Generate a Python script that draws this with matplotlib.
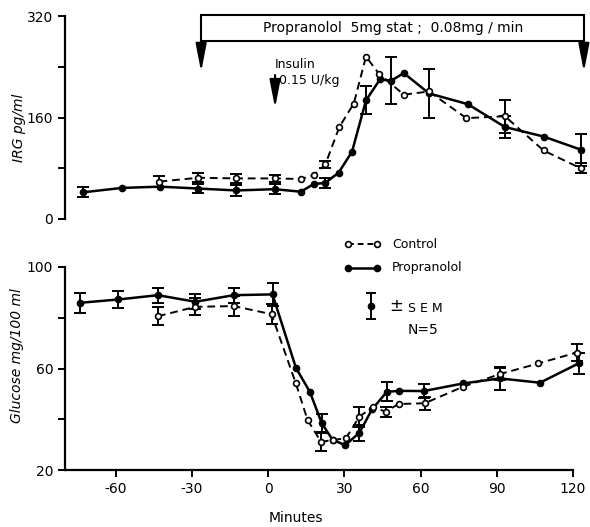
import numpy as np
import matplotlib
matplotlib.use('Agg')
import matplotlib.pyplot as plt
from matplotlib.patches import Rectangle
from matplotlib.lines import Line2D

# IRG (pg/ml), upper panel
irg_prop_t = [-73, -57.6, -42.5, -27.6, -12.5, 2.6, 12.8, 17.9, 22.5, 27.7, 33, 38.5,
              44, 48.4, 53.4, 63.3, 78.6, 93.2, 108.4, 123.3]
irg_prop = [42, 49, 51, 48, 45, 47, 43, 55, 57, 73, 106, 187, 220, 218, 230, 198, 181,
            145, 130, 109]
irg_prop_sem = [8, 0, 0, 7, 8, 8, 0, 0, 8, 0, 0, 22, 0, 37, 0, 39, 0, 18, 0, 25]

irg_ctrl_t = [-42.8, -27.6, -12.5, 2.6, 12.8, 17.9, 22.5, 28, 33.7, 38.5, 43.6, 53.4,
              63.3, 78, 93.2, 108.4, 123]
irg_ctrl = [59, 65, 64, 64, 63, 69, 86, 145, 182, 256, 229, 196, 201, 159, 162, 108, 80]
irg_ctrl_sem = [8, 7, 7, 6, 0, 0, 6, 0, 0, 0, 0, 0, 0, 0, 26, 0, 8]

# Glucose (mg/100 ml), lower panel
glu_prop_t = [-74, -59, -43.4, -28.7, -13.5, 1.7, 10.9, 16.4, 21.1, 25.4, 30.4, 35.9,
              40.9, 46.7, 51.5, 61.2, 76.7, 91.2, 107, 122.2]
glu_prop = [85.9, 87.2, 88.9, 86.3, 88.9, 89.2, 60.3, 50.8, 38.4, 31.8, 29.8, 34.7,
            43.9, 50.8, 51.2, 51.1, 54.1, 56.1, 54.4, 62]
glu_prop_sem = [4, 3.5, 3, 3, 3, 4.5, 0, 0, 3.5, 0, 0, 3.2, 0, 3.7, 0, 2.6, 0, 4.5, 0, 4.2]

glu_ctrl_t = [-43.4, -28.7, -13.5, 1.3, 10.9, 15.5, 20.8, 25.4, 30.6, 35.9, 41.2, 46.2,
              51.3, 61.6, 76.7, 91.2, 106.4, 121.5]
glu_ctrl = [80.6, 84.3, 84.6, 81.4, 54.1, 39.7, 31.1, 31.8, 32.5, 41, 44.9, 43, 46,
            46.3, 52.8, 57.8, 62, 66.3]
glu_ctrl_sem = [3.5, 3.3, 4, 4, 0, 0, 3.5, 0, 0, 4, 0, 2, 0, 2.5, 0, 2.5, 0, 3.5]

x_ticks = [-60, -30, 0, 30, 60, 90, 120]

W, H = 590, 527


def fx(x):
    return x / W


def fy(y):
    return 1 - y / H


def draw_series(ax, t, v, sem, filled):
    t = np.array(t)
    v = np.array(v)
    sem = np.array(sem)
    m = sem > 0
    eb = ax.errorbar(t[m], v[m], yerr=sem[m], fmt='none', ecolor='black', elinewidth=1.4,
                     capsize=4, capthick=1.4, zorder=2)
    for a in eb.get_children():
        a.set_clip_on(False)
    if filled:
        ax.plot(t, v, '-', color='black', lw=1.8, marker='o', ms=4.5,
                mfc='black', mec='black', zorder=3, clip_on=False)
    else:
        ax.plot(t, v, '--', color='black', lw=1.4, dashes=(4, 2.5), marker='o', ms=4.2,
                mfc='white', mec='black', mew=1.2, zorder=4, clip_on=False)


fig = plt.figure(figsize=(W / 100, H / 100), dpi=100)
plt.rcParams['font.family'] = 'DejaVu Sans'

ax1 = fig.add_axes([fx(65), fy(219), fx(573) - fx(65), fy(16) - fy(219)])
ax2 = fig.add_axes([fx(65), fy(470), fx(573) - fx(65), fy(267) - fy(470)])

for ax in (ax1, ax2):
    ax.set_xlim(-80, 120)
    for s in ('top', 'right'):
        ax.spines[s].set_visible(False)
    ax.spines['left'].set_linewidth(1.6)
    ax.spines['bottom'].set_linewidth(1.6)
    ax.tick_params(width=1.4, length=5, labelsize=10)

# upper panel
draw_series(ax1, irg_prop_t, irg_prop, irg_prop_sem, True)
draw_series(ax1, irg_ctrl_t, irg_ctrl, irg_ctrl_sem, False)
ax1.set_ylim(0, 320)
ax1.set_yticks([0, 80, 160, 240, 320])
ax1.set_yticklabels(['0', '', '160', '', '320'])
ax1.spines['bottom'].set_visible(False)
ax1.set_xticks([])

# lower panel
draw_series(ax2, glu_prop_t, glu_prop, glu_prop_sem, True)
draw_series(ax2, glu_ctrl_t, glu_ctrl, glu_ctrl_sem, False)
ax2.set_ylim(20, 100)
ax2.set_yticks([20, 40, 60, 80, 100])
ax2.set_yticklabels(['20', '', '60', '', '100'])
ax2.set_xticks(x_ticks)
ax2.set_xticklabels([str(v) for v in x_ticks])

fig.text(fx(19), fy(128), 'IRG pg/ml', rotation=90, style='italic', fontsize=10,
         ha='center', va='center')
fig.text(fx(17), fy(356), 'Glucose mg/100 ml', rotation=90, style='italic', fontsize=10,
         ha='center', va='center')
fig.text(fx(296), fy(518), 'Minutes', fontsize=10, ha='center', va='center')

# propranolol infusion box and arrows
box = Rectangle((-26.4, 281), 150.7, 41, fill=False, lw=1.5, ec='black', clip_on=False)
ax1.add_patch(box)
ax1.text(49, 301, 'Propranolol  5mg stat ;  0.08mg / min', fontsize=10, ha='center',
         va='center', clip_on=False)
arr = dict(arrowstyle='-|>,head_length=1.7,head_width=0.33', color='black', lw=1.5,
           shrinkA=0, shrinkB=0)
ax1.annotate('', xy=(-26.4, 232), xytext=(-26.4, 281), arrowprops=arr, annotation_clip=False)
ax1.annotate('', xy=(124.3, 232), xytext=(124.3, 281), arrowprops=arr, annotation_clip=False)
ax1.annotate('', xy=(2.7, 175), xytext=(2.7, 227), arrowprops=arr, annotation_clip=False)
ax1.text(2.7, 244, 'Insulin', fontsize=9, ha='left', va='center')
ax1.text(4.3, 218, '0.15 U/kg', fontsize=9, ha='left', va='center')

# legend
fig.add_artist(Line2D([fx(348), fx(377)], [fy(244), fy(244)], transform=fig.transFigure,
                      color='black', lw=1.4, ls='--', dashes=(3, 2), marker='o', ms=4.2,
                      mfc='white', mec='black', mew=1.2))
fig.text(fx(392), fy(244), 'Control', fontsize=9, ha='left', va='center')
fig.add_artist(Line2D([fx(348), fx(377)], [fy(268), fy(268)], transform=fig.transFigure,
                      color='black', lw=1.8, marker='o', ms=4.5, mfc='black', mec='black'))
fig.text(fx(392), fy(268), 'Propranolol', fontsize=9, ha='left', va='center')
fig.add_artist(Line2D([fx(371), fx(371)], [fy(293), fy(319)], transform=fig.transFigure,
                      color='black', lw=1.4))
for yy in (293, 319):
    fig.add_artist(Line2D([fx(367), fx(375)], [fy(yy), fy(yy)], transform=fig.transFigure,
                          color='black', lw=1.4))
fig.add_artist(Line2D([fx(371)], [fy(306)], transform=fig.transFigure, marker='o', ms=4.5,
                      color='black'))
fig.text(fx(396), fy(306), '±', fontsize=12, ha='center', va='center')
fig.text(fx(408), fy(308), 'S E M', fontsize=9, ha='left', va='center')
fig.text(fx(408), fy(330), 'N=5', fontsize=10, ha='left', va='center')

fig.savefig('out.png', dpi=100)
